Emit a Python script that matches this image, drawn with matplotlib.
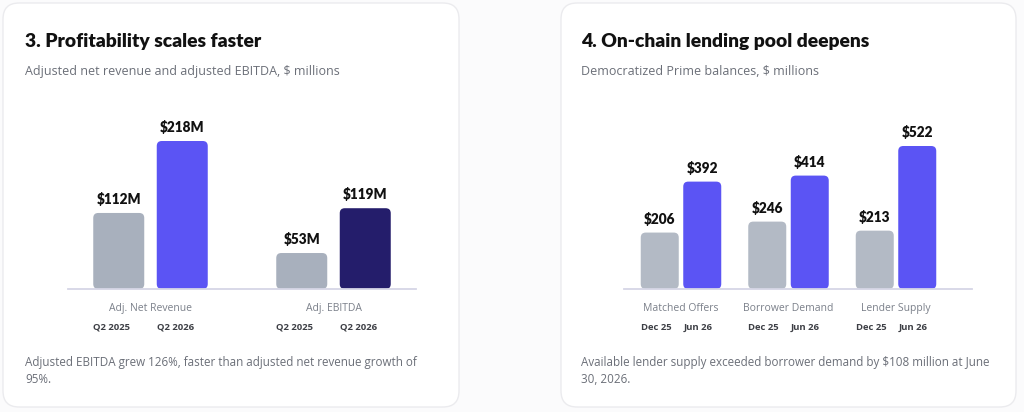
import matplotlib
matplotlib.use("Agg")
import numpy as np
import matplotlib.pyplot as plt
from matplotlib.patches import FancyBboxPatch

plt.rcParams['font.family'] = ['Open Sans', 'DejaVu Sans']
HEAVY = ['Lato', 'DejaVu Sans']

W, H = 1024, 412

# card 3: profitability
rev_title = "3. Profitability scales faster"
rev_subtitle = "Adjusted net revenue and adjusted EBITDA, $ millions"
rev_groups = ["Adj. Net Revenue", "Adj. EBITDA"]
rev_periods = ["Q2 2025", "Q2 2026"]
rev_q2_2025 = [112, 53]
rev_q2_2026 = [218, 119]
rev_note = ["Adjusted EBITDA grew 126%, faster than adjusted net revenue growth of", "95%."]

# card 4: lending pool
pool_title = "4. On-chain lending pool deepens"
pool_subtitle = "Democratized Prime balances, $ millions"
pool_groups = ["Matched Offers", "Borrower Demand", "Lender Supply"]
pool_periods = ["Dec 25", "Jun 26"]
pool_dec25 = [206, 246, 213]
pool_jun26 = [392, 414, 522]
pool_note = ["Available lender supply exceeded borrower demand by $108 million at June",
             "30, 2026."]

GREY = "#a8b0bd"
GREY2 = "#b3bac5"
PURPLE = "#5b54f4"
NAVY = "#241d6b"
TEXT = "#111111"
SUB = "#6b6f78"


def px_axes(fig, left, top, right, bottom):
    return fig.add_axes([left / W, 1 - bottom / H, (right - left) / W, (bottom - top) / H])


def round_bars(ax, bars, radius_px):
    x0, x1 = ax.get_xlim()
    y0, y1 = ax.get_ylim()
    bb = ax.get_position()
    sx = (x1 - x0) / (bb.width * W)
    sy = (y1 - y0) / (bb.height * H)
    for b in bars:
        x, y = b.get_xy()
        p = FancyBboxPatch((x, y), b.get_width(), b.get_height(),
                           boxstyle=f"round,pad=0,rounding_size={radius_px * sx}",
                           mutation_aspect=sy / sx, fc=b.get_facecolor(), ec="none")
        ax.add_patch(p)
        b.remove()


def draw_chart(ax, groups, periods, first, second, colors2, grey, width, off,
               xlim, ymax, fmt):
    x = np.arange(len(groups))
    ax.set_xlim(*xlim)
    ax.set_ylim(0, ymax)
    b1 = ax.bar(x - off, first, width, color=grey)
    b2 = ax.bar(x + off, second, width, color=colors2)
    for bx, v in zip(list(x - off) + list(x + off), first + second):
        ax.annotate(fmt(v), xy=(bx, v), xytext=(0, 6.5), textcoords="offset points",
                    ha="center", va="baseline", fontsize=9.8, fontweight="heavy",
                    family=HEAVY, color=TEXT)
    round_bars(ax, list(b1) + list(b2), 5)
    ax.axhline(0, color="#d6d6e6", lw=1.3, clip_on=False)
    for gx, g in zip(x, groups):
        ax.annotate(g, xy=(gx, 0), xycoords=("data", "axes fraction"), xytext=(0, -16),
                    textcoords="offset points", ha="center", va="baseline",
                    fontsize=7.5, color="#7b808a")
        for k, p in enumerate(periods):
            left = gx + (2 * k - 1) * off - width / 2
            ax.annotate(p, xy=(left, 0), xycoords=("data", "axes fraction"),
                        xytext=(0, -29.5), textcoords="offset points", ha="left",
                        va="baseline", fontsize=6.8, fontweight="bold", color="#3d3f45")
    ax.axis("off")


fig = plt.figure(figsize=(W / 100, H / 100), dpi=100)
fig.patch.set_facecolor("#fbfbfc")
bg = fig.add_axes([0, 0, 1, 1])
bg.set_xlim(0, W)
bg.set_ylim(H, 0)
bg.axis("off")

for cx0, cx1 in [(3, 459), (561, 1016)]:
    bg.add_patch(FancyBboxPatch((cx0, 3), cx1 - cx0, 404,
                                boxstyle="round,pad=0,rounding_size=16",
                                fc="white", ec="#ebebee", lw=1))

for tx, title, sub, note in [(25, rev_title, rev_subtitle, rev_note),
                             (581, pool_title, pool_subtitle, pool_note)]:
    bg.text(tx, 47, title, fontsize=13.9, fontweight="heavy", family=HEAVY, color=TEXT,
            va="baseline")
    bg.text(tx, 75, sub, fontsize=9.0, color=SUB, va="baseline")
    for i, line in enumerate(note):
        bg.text(tx, 366 + 17 * i, line, fontsize=8.35, color=SUB, va="baseline")

ax1 = px_axes(fig, 68, 100, 416, 289)
draw_chart(ax1, rev_groups, rev_periods, rev_q2_2025, rev_q2_2026, [PURPLE, NAVY], GREY,
           51 / 183, 31.75 / 183, (-82.5 / 183, 1 + 82.5 / 183),
           max(rev_q2_2026) * 189 / 148, lambda v: f"${v}M")

ax2 = px_axes(fig, 624, 100, 972, 289)
draw_chart(ax2, pool_groups, pool_periods, pool_dec25, pool_jun26, PURPLE, GREY2,
           38 / 107.5, 21.25 / 107.5, (-57 / 107.5, 2 + 76 / 107.5),
           max(pool_jun26) * 189 / 143, lambda v: f"${v}")

fig.savefig("out.png", dpi=100, facecolor=fig.get_facecolor())
